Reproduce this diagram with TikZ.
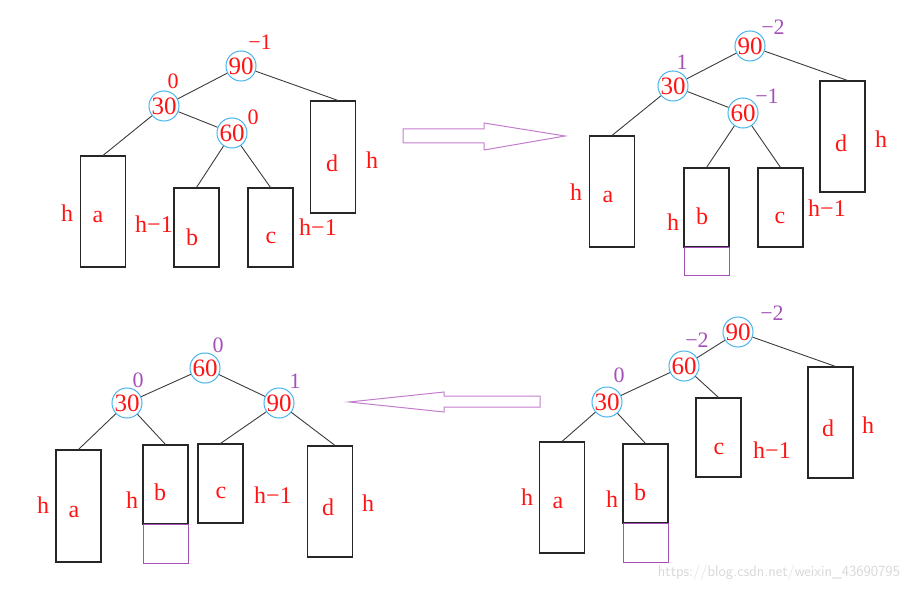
\documentclass[tikz,border=0pt]{standalone}
\usepackage{fontspec}
\usepackage{tikz}
\usetikzlibrary{calc}
\setmainfont{Liberation Serif}

\definecolor{keyred}{RGB}{255,20,20}
\definecolor{ringblue}{RGB}{70,180,235}
\definecolor{balpurple}{RGB}{165,80,185}
\definecolor{arrowpurple}{RGB}{195,125,205}
\definecolor{edgegray}{RGB}{60,60,60}

\begin{document}
\begin{tikzpicture}[x=1pt, y=-1pt,
    keynode/.style={circle, draw=ringblue, line width=1pt, text=keyred,
        minimum size=28pt, inner sep=0pt, font=\fontsize{25}{25}\selectfont},
    box/.style={draw=black!85, line width=1.1pt, minimum width=45pt, inner sep=0pt},
    extbox/.style={draw=balpurple, line width=1pt, minimum width=45pt, inner sep=0pt},
    lbl/.style={text=keyred, inner sep=0pt, font=\fontsize{24}{24}\selectfont},
    bal/.style={text=keyred, inner sep=0pt, font=\fontsize{22}{22}\selectfont},
    newbal/.style={bal, text=balpurple},
    edge/.style={draw=edgegray, line width=0.9pt}]

    \useasboundingbox (0,0) rectangle (924,591);

    % before insertion
    \node[keynode] (p1n90) at (241,66) {90};
    \node[keynode] (p1n30) at (164,106) {30};
    \node[keynode] (p1n60) at (232,133) {60};
    \node[box, minimum height=111pt] (p1a) at (103,211.5) {};
    \node[box, minimum height=79pt] (p1b) at (196.5,227.5) {};
    \node[box, minimum height=79pt] (p1c) at (270.5,227.5) {};
    \node[box, minimum height=112pt] (p1d) at (333,157) {};

    \draw[edge] (p1n90) -- (p1n30);
    \draw[edge] (p1n90) -- ([xshift=5pt]p1d.north);
    \draw[edge] (p1n30) -- (p1a.north);
    \draw[edge] (p1n30) -- (p1n60);
    \draw[edge] (p1n60) -- (p1b.north);
    \draw[edge] (p1n60) -- (p1c.north);

    \node[lbl] (p1la) at (98,217) {a};
    \node[lbl] (p1lb) at (192,237) {b};
    \node[lbl] (p1lc) at (271,238) {c};
    \node[lbl] (p1ld) at (332,163) {d};
    \node[lbl] (p1ha) at (67,213) {h};
    \node[lbl] (p1hb) at (154,224) {h−1};
    \node[lbl] (p1hc) at (318,227) {h−1};
    \node[lbl] (p1hd) at (372,160) {h};

    \node[bal] (p1b90) at (260,42) {−1};
    \node[bal] (p1b30) at (173,81) {0};
    \node[bal] (p1b60) at (253,117) {0};

    % after insertion into b
    \node[keynode] (p2n90) at (750,46) {90};
    \node[keynode] (p2n30) at (673,86) {30};
    \node[keynode] (p2n60) at (743,113) {60};
    \node[box, minimum height=111pt] (p2a) at (612,191.5) {};
    \node[box, minimum height=79pt] (p2b) at (706.5,207.5) {};
    \node[extbox, minimum height=28pt] (p2x) at (706.5,261) {};
    \node[box, minimum height=79pt] (p2c) at (780.5,207.5) {};
    \node[box, minimum height=111pt] (p2d) at (842.5,136.5) {};

    \draw[edge] (p2n90) -- (p2n30);
    \draw[edge] (p2n90) -- ([xshift=5pt]p2d.north);
    \draw[edge] (p2n30) -- (p2a.north);
    \draw[edge] (p2n30) -- (p2n60);
    \draw[edge] (p2n60) -- (p2b.north);
    \draw[edge] (p2n60) -- (p2c.north);

    \node[lbl] (p2la) at (608,197) {a};
    \node[lbl] (p2lb) at (702,216) {b};
    \node[lbl] (p2lc) at (780,218) {c};
    \node[lbl] (p2ld) at (841,143) {d};
    \node[lbl] (p2ha) at (576,192) {h};
    \node[lbl] (p2hb) at (673,222) {h};
    \node[lbl] (p2hc) at (827,208) {h−1};
    \node[lbl] (p2hd) at (881,139) {h};

    \node[newbal] (p2b90) at (773,27) {−2};
    \node[newbal] (p2b30) at (682,62) {1};
    \node[newbal] (p2b60) at (767,96) {−1};

    % after left rotation at 30
    \node[keynode] (p4n90) at (738,332) {90};
    \node[keynode] (p4n60) at (684,366) {60};
    \node[keynode] (p4n30) at (607,402) {30};
    \node[box, minimum height=111pt] (p4a) at (562,497.5) {};
    \node[box, minimum height=79pt] (p4b) at (645.5,483.5) {};
    \node[extbox, minimum height=39pt] (p4x) at (645.5,542.5) {};
    \node[box, minimum height=79pt] (p4c) at (718.5,437.5) {};
    \node[box, minimum height=111pt] (p4d) at (830.5,422.5) {};

    \draw[edge] (p4n90) -- (p4n60);
    \draw[edge] (p4n90) -- ([xshift=5pt]p4d.north);
    \draw[edge] (p4n60) -- (p4n30);
    \draw[edge] (p4n60) -- (p4c.north);
    \draw[edge] (p4n30) -- (p4a.north);
    \draw[edge] (p4n30) -- (p4b.north);

    \node[lbl] (p4la) at (558,503) {a};
    \node[lbl] (p4lb) at (640,492) {b};
    \node[lbl] (p4lc) at (719,449) {c};
    \node[lbl] (p4ld) at (828,428) {d};
    \node[lbl] (p4ha) at (527,497) {h};
    \node[lbl] (p4hb) at (612,499) {h};
    \node[lbl] (p4hc) at (772,450) {h−1};
    \node[lbl] (p4hd) at (868,425) {h};

    \node[newbal] (p4b90) at (772,313) {−2};
    \node[newbal] (p4b60) at (697,340) {−2};
    \node[newbal] (p4b30) at (619,375) {0};

    % after right rotation at 90
    \node[keynode] (p3n60) at (205,368) {60};
    \node[keynode] (p3n30) at (127,403) {30};
    \node[keynode] (p3n90) at (279,403) {90};
    \node[box, minimum height=112pt] (p3a) at (78.5,506) {};
    \node[box, minimum height=79pt] (p3b) at (165.5,484.5) {};
    \node[extbox, minimum height=39pt] (p3x) at (165.5,543.5) {};
    \node[box, minimum height=79pt] (p3c) at (220.5,483.5) {};
    \node[box, minimum height=111pt] (p3d) at (330,501.5) {};

    \draw[edge] (p3n60) -- (p3n30);
    \draw[edge] (p3n60) -- (p3n90);
    \draw[edge] (p3n30) -- (p3a.north);
    \draw[edge] (p3n30) -- (p3b.north);
    \draw[edge] (p3n90) -- (p3c.north);
    \draw[edge] (p3n90) -- ([xshift=5pt]p3d.north);

    \node[lbl] (p3la) at (74,512) {a};
    \node[lbl] (p3lb) at (160,492) {b};
    \node[lbl] (p3lc) at (221,493) {c};
    \node[lbl] (p3ld) at (328,507) {d};
    \node[lbl] (p3ha) at (43,505) {h};
    \node[lbl] (p3hb) at (132,500) {h};
    \node[lbl] (p3hc) at (273,495) {h−1};
    \node[lbl] (p3hd) at (368,503) {h};

    \node[newbal] (p3b60) at (218,345) {0};
    \node[newbal] (p3b30) at (138,380) {0};
    \node[newbal] (p3b90) at (295,381) {1};

    % step arrows
    \draw[arrowpurple, line width=1pt] (403,129) -- (484,129) -- (484,123)
        -- (565,136) -- (484,150) -- (484,143) -- (403,143) -- cycle;
    \draw[arrowpurple, line width=1pt] (540,396) -- (444,396) -- (444,392)
        -- (349,402) -- (444,412) -- (444,407) -- (540,407) -- cycle;

    \node[text=black!15, font=\sffamily\fontsize{15.5}{15.5}\selectfont] (mark)
        at (779,573) {https://blog.csdn.net/weixin\_43690795};
\end{tikzpicture}
\end{document}
